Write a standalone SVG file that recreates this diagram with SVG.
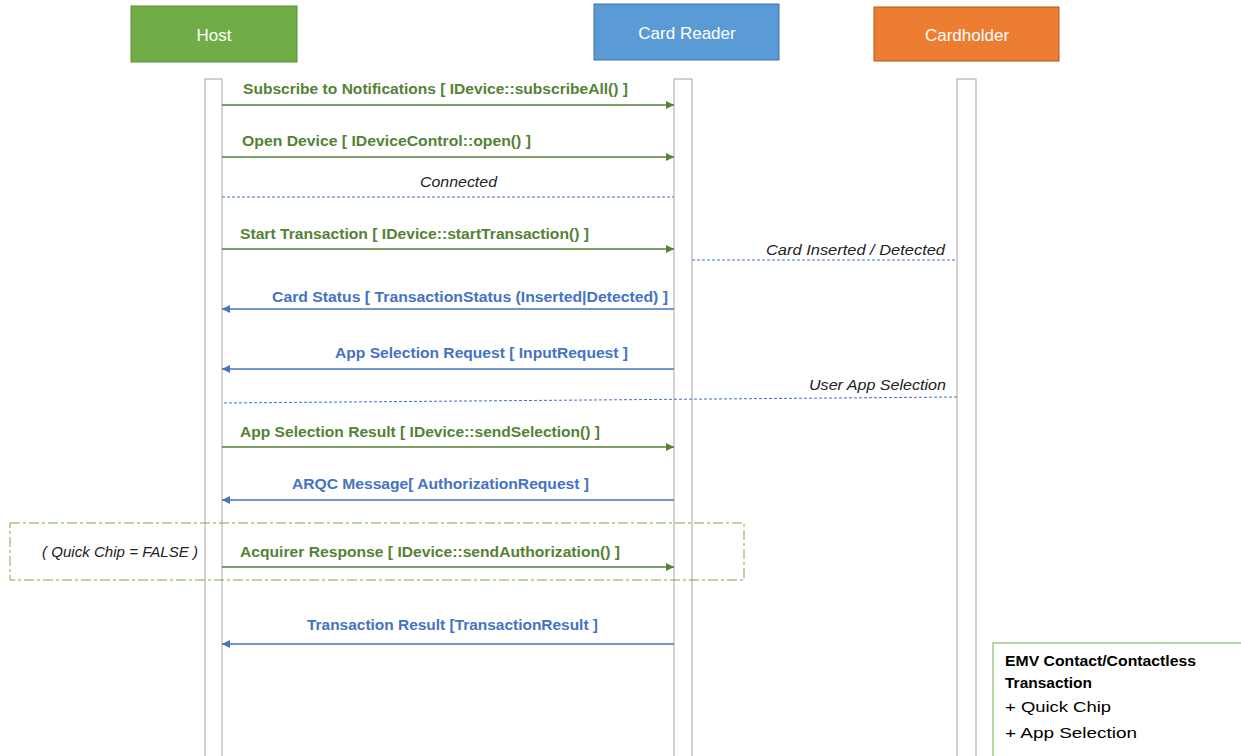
<svg xmlns="http://www.w3.org/2000/svg" width="1241" height="756" viewBox="0 0 1241 756">
<defs>
<marker id="ag" viewBox="0 0 10 10" refX="10" refY="5" markerWidth="8" markerHeight="8" markerUnits="userSpaceOnUse" orient="auto"><path d="M0,0 L10,5 L0,10 z" fill="#548235"/></marker>
<marker id="ab" viewBox="0 0 10 10" refX="10" refY="5" markerWidth="8" markerHeight="8" markerUnits="userSpaceOnUse" orient="auto"><path d="M0,0 L10,5 L0,10 z" fill="#4472C4"/></marker>
</defs>
<style>
text{font-family:"Liberation Sans",Arial,sans-serif}
.hd{font-size:17px;fill:#ffffff;text-anchor:middle}
.life{fill:#ffffff;stroke:#a6a6a6;stroke-width:1}
.mg{font-size:14px;font-weight:bold;fill:#548235}
.mb{font-size:14px;font-weight:bold;fill:#4472C4}
.it{font-size:14px;font-style:italic;fill:#222222}
.lg{stroke:#548235;stroke-width:1.5;fill:none}
.lb{stroke:#4472C4;stroke-width:1.5;fill:none}
.dash{stroke:#4472C4;stroke-width:1;stroke-dasharray:3,2;fill:none}
.leg{font-size:15px;fill:#000000}
</style>
<rect width="1241" height="756" fill="#ffffff"/>
<g id="host">
<rect x="131" y="6" width="166" height="56" fill="#70AD47" stroke="#5a8c3a"/>
<text class="hd" x="214" y="41">Host</text>
<rect class="life" x="205" y="79" width="17" height="690"/>
</g>
<g id="card-reader">
<rect x="594" y="4" width="185" height="56" fill="#5B9BD5" stroke="#41719C"/>
<text class="hd" x="687" y="39">Card Reader</text>
<rect class="life" x="674" y="79" width="18" height="690"/>
</g>
<g id="cardholder">
<rect x="874" y="7" width="185" height="54" fill="#ED7D31" stroke="#AE5A21"/>
<text class="hd" x="967" y="41">Cardholder</text>
<rect class="life" x="957" y="79" width="19" height="690"/>
</g>
<g id="quickchip-frame">
<rect x="10" y="523" width="734" height="57" fill="none" stroke="#70AD47" stroke-width="1" stroke-dasharray="10,3,3,3"/>
<text class="it" x="42" y="557" textLength="156" lengthAdjust="spacingAndGlyphs">( Quick Chip = FALSE )</text>
</g>
<g id="connectors">
<line class="lg" x1="222" y1="105" x2="674" y2="105" marker-end="url(#ag)"/>
<text class="mg" x="243" y="94" textLength="385" lengthAdjust="spacingAndGlyphs">Subscribe to Notifications [ IDevice::subscribeAll() ]</text>
<line class="lg" x1="222" y1="157" x2="674" y2="157" marker-end="url(#ag)"/>
<text class="mg" x="242" y="146" textLength="289" lengthAdjust="spacingAndGlyphs">Open Device [ IDeviceControl::open() ]</text>
<line class="dash" x1="222" y1="197" x2="674" y2="197"/>
<text class="it" x="420" y="187" textLength="77" lengthAdjust="spacingAndGlyphs">Connected</text>
<line class="lg" x1="222" y1="249" x2="674" y2="249" marker-end="url(#ag)"/>
<text class="mg" x="240" y="239" textLength="349" lengthAdjust="spacingAndGlyphs">Start Transaction [ IDevice::startTransaction() ]</text>
<line class="dash" x1="692" y1="260" x2="957" y2="260"/>
<text class="it" x="766" y="255" textLength="179" lengthAdjust="spacingAndGlyphs">Card Inserted / Detected</text>
<line class="lb" x1="674" y1="309" x2="222" y2="309" marker-end="url(#ab)"/>
<text class="mb" x="272" y="302" textLength="396" lengthAdjust="spacingAndGlyphs">Card Status [ TransactionStatus (Inserted|Detected) ]</text>
<line class="lb" x1="674" y1="369" x2="222" y2="369" marker-end="url(#ab)"/>
<text class="mb" x="335" y="358" textLength="293" lengthAdjust="spacingAndGlyphs">App Selection Request [ InputRequest ]</text>
<line class="dash" x1="957" y1="397" x2="222" y2="403"/>
<text class="it" x="809" y="390" textLength="137" lengthAdjust="spacingAndGlyphs">User App Selection</text>
<line class="lg" x1="222" y1="447" x2="674" y2="447" marker-end="url(#ag)"/>
<text class="mg" x="240" y="437" textLength="360" lengthAdjust="spacingAndGlyphs">App Selection Result [ IDevice::sendSelection() ]</text>
<line class="lb" x1="674" y1="500" x2="222" y2="500" marker-end="url(#ab)"/>
<text class="mb" x="292" y="489" textLength="297" lengthAdjust="spacingAndGlyphs">ARQC Message[ AuthorizationRequest ]</text>
<line class="lg" x1="222" y1="567" x2="674" y2="567" marker-end="url(#ag)"/>
<text class="mg" x="240" y="557" textLength="380" lengthAdjust="spacingAndGlyphs">Acquirer Response [ IDevice::sendAuthorization() ]</text>
<line class="lb" x1="674" y1="644" x2="222" y2="644" marker-end="url(#ab)"/>
<text class="mb" x="307" y="630" textLength="291" lengthAdjust="spacingAndGlyphs">Transaction Result [TransactionResult ]</text>
</g>
<g id="legend">
<rect x="993" y="643" width="260" height="120" fill="#ffffff" stroke="#70AD47" stroke-width="1"/>
<text class="leg" x="1005" y="666" font-weight="bold" textLength="191" lengthAdjust="spacingAndGlyphs">EMV Contact/Contactless</text>
<text class="leg" x="1005" y="688" font-weight="bold" textLength="87" lengthAdjust="spacingAndGlyphs">Transaction</text>
<text class="leg" x="1005" y="712" font-size="17" textLength="106" lengthAdjust="spacingAndGlyphs">+ Quick Chip</text>
<text class="leg" x="1005" y="738" font-size="17" textLength="132" lengthAdjust="spacingAndGlyphs">+ App Selection</text>
</g>
</svg>
